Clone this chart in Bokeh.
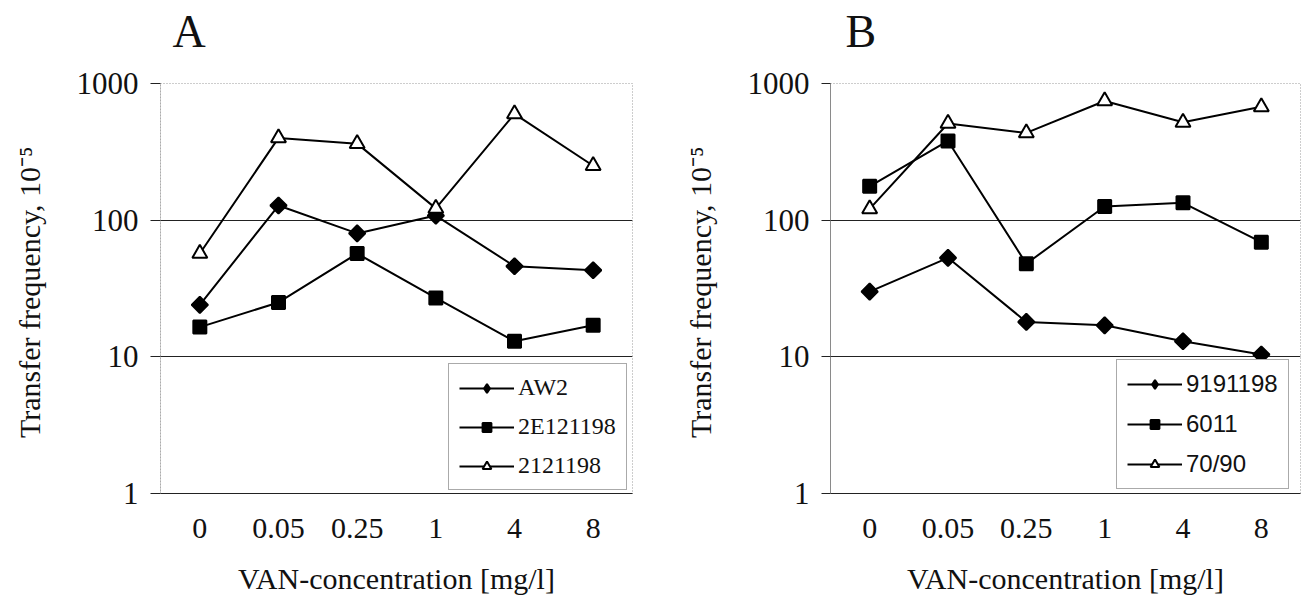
import math
from bokeh.plotting import figure
from bokeh.layouts import row
from bokeh.models import FixedTicker, Legend, LegendItem, Range1d, Title
from bokeh.embed import file_html
from bokeh.resources import INLINE

# ---- data ----
concentrations = ["0", "0.05", "0.25", "1", "4", "8"]
y_ticks = [1, 10, 100, 1000]
y_tick_labels = ["1", "10", "100", "1000"]

a_names = ["AW2", "2E121198", "2121198"]
a_aw2 = [24, 128, 80, 108, 46, 43]
a_2e121198 = [16.5, 25, 57, 27, 13, 17]
a_2121198 = [57, 400, 363, 122, 600, 250]

b_names = ["9191198", "6011", "70/90"]
b_9191198 = [30, 53, 18, 17, 13, 10.4]
b_6011 = [177, 380, 48, 126, 134, 69]
b_7090 = [121, 510, 435, 745, 520, 675]

x_title = "VAN-concentration [mg/l]"
y_title = "Transfer frequency,  10\u207b\u2075"

SERIF = "Liberation Serif"
SANS = "Liberation Sans"
INK = "#111111"


def make_panel(letter, series, names, legend_font, width, borders, title_offset,
               legend_loc, tick_out, y_line_dash):
    left, right, top, bottom = borders
    p = figure(width=width, height=611, x_range=concentrations,
               y_range=Range1d(1, 1000), y_axis_type="log", title=None,
               output_backend="svg", toolbar_location=None,
               min_border_left=left, min_border_right=right,
               min_border_top=top, min_border_bottom=bottom,
               background_fill_color="white", border_fill_color="white")

    # spacer between frame and panel letter (nearest the frame), then the letter
    p.add_layout(Title(text=" ", text_font_size="10px", standoff=10), "above")
    p.add_layout(Title(text=letter, text_font=SERIF, text_font_size="46px",
                       text_font_style="normal", text_color=INK, align="left",
                       offset=title_offset, standoff=7), "above")

    p.outline_line_color = "#9a9a9a"
    p.outline_line_dash = "1 2"

    p.xgrid.grid_line_color = None
    p.ygrid.grid_line_color = "#222222"
    p.ygrid.grid_line_width = 1
    p.ygrid.ticker = FixedTicker(ticks=y_ticks)

    yax = p.yaxis[0]
    yax.ticker = FixedTicker(ticks=y_ticks, minor_ticks=[])
    yax.major_label_overrides = {t: l for t, l in zip(y_ticks, y_tick_labels)}
    yax.major_tick_in = 0
    yax.major_tick_out = tick_out
    yax.major_tick_line_color = "#222222"
    yax.minor_tick_line_color = None
    yax.axis_line_color = "#8a8a8a"
    yax.axis_line_dash = y_line_dash
    yax.major_label_text_font = SERIF
    yax.major_label_text_font_size = "31px"
    yax.major_label_text_color = INK
    yax.major_label_standoff = 12
    yax.axis_label = y_title
    yax.axis_label_text_font = SERIF
    yax.axis_label_text_font_size = "30px"
    yax.axis_label_text_font_style = "normal"
    yax.axis_label_text_color = INK
    yax.axis_label_standoff = 28

    xax = p.xaxis[0]
    xax.major_tick_in = 0
    xax.major_tick_out = 0
    xax.major_tick_line_color = None
    xax.minor_tick_line_color = None
    xax.axis_line_color = "#222222"
    xax.major_label_text_font = SERIF
    xax.major_label_text_font_size = "30px"
    xax.major_label_text_color = INK
    xax.major_label_standoff = 25
    xax.axis_label = x_title
    xax.axis_label_text_font = SERIF
    xax.axis_label_text_font_size = "30px"
    xax.axis_label_text_font_style = "normal"
    xax.axis_label_text_color = INK
    xax.axis_label_standoff = 21

    styles = [
        dict(marker="square", angle=math.pi / 4, size=11.5, fill_color="black", legend_marker="diamond", legend_size=17),
        dict(marker="square", angle=0, size=13, fill_color="black", legend_marker="square", legend_size=13),
        dict(marker="triangle", angle=0, size=15, fill_color="white", legend_marker="triangle", legend_size=15),
    ]
    items = []
    for vals, name, st in zip(series, names, styles):
        lr = p.line(concentrations, vals, line_color="black", line_width=2)
        p.scatter(concentrations, vals, marker=st["marker"], angle=st["angle"],
                  size=st["size"], fill_color=st["fill_color"],
                  line_color="black", line_width=2)
        # hidden copy of the series, used only to draw the legend symbol
        lg = p.scatter(concentrations, vals, marker=st["legend_marker"], size=st["legend_size"],
                       fill_color=st["fill_color"], line_color="black", line_width=2,
                       visible=False)
        items.append(LegendItem(label=name, renderers=[lr, lg]))

    leg = Legend(items=items, location=legend_loc)
    leg.level = "underlay"
    leg.label_text_font = legend_font
    leg.label_text_font_size = "24px"
    leg.label_text_color = INK
    leg.glyph_width = 55
    leg.glyph_height = 22
    leg.label_height = 22
    leg.spacing = 12
    leg.padding = 10
    leg.margin = 0
    leg.label_standoff = 4
    leg.border_line_color = "#555555"
    leg.border_line_width = 1
    leg.background_fill_color = "white"
    leg.background_fill_alpha = 1.0
    p.add_layout(leg, "center")
    return p


p1 = make_panel("A", [a_aw2, a_2e121198, a_2121198], a_names, SERIF,
                656, (160, 24, 83, 116), 12, (288, 3), 10, "1 2")
p2 = make_panel("B", [b_9191198, b_6011, b_7090], b_names, SANS,
                653, (174, 9, 81, 118), 15, (286, 4), 9, "solid")

layout = row(p1, p2)
open("out.html", "w").write(file_html(layout, INLINE))
